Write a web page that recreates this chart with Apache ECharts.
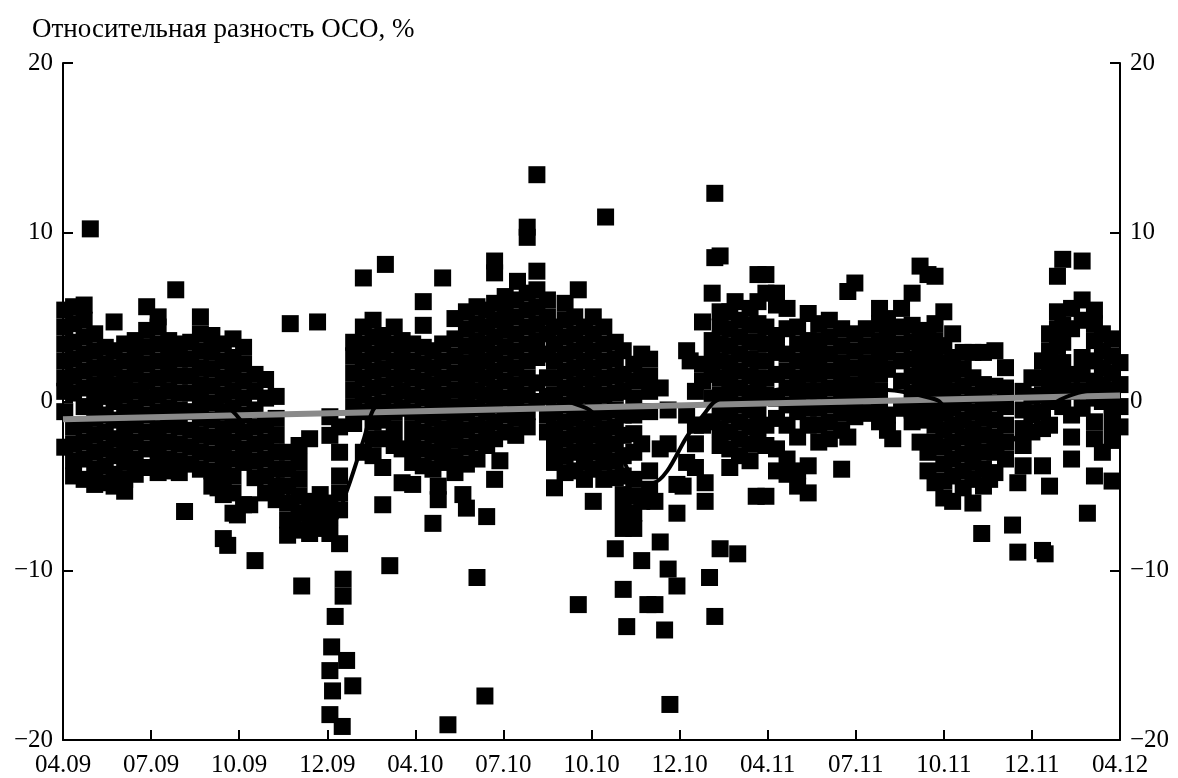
<!DOCTYPE html>
<html>
<head>
<meta charset="utf-8">
<script src="https://cdn.jsdelivr.net/npm/echarts@6/dist/echarts.min.js"></script>
<style>
html,body{margin:0;padding:0;background:#fff;}
#chart{width:1178px;height:778px;}
</style>
</head>
<body>
<div id="chart"></div>
<script>
// x axis: tick index 0..12 labelled with month.year
const xLabels = ['04.09','07.09','10.09','12.09','04.10','07.10','10.10','12.10','04.11','07.11','10.11','12.11','04.12'];
const yTicks = [-20, -10, 0, 10, 20];

// Scatter points: [x position, [y values at that x]]
const seg2009a = [
  [0.02,[5.4,4.4,3.4,2.4,1.4,0.6,-0.6,-2.7]],
  [0.12,[5.6,4.6,3.5,2.5,1.5,0.5,-1.5,-2.5,-3.5,-4.4]],
  [0.24,[5.7,4.8,3.8,2.8,1.8,0.8,-0.3,-1.4,-2.4,-3.4,-4.6]],
  [0.31,[10.2]],
  [0.36,[4.0,3.0,2.0,1.0,0.0,-1.0,-2.0,-3.0,-4.0,-4.9]],
  [0.48,[3.2,2.2,1.3,0.3,-0.8,-1.8,-2.8,-3.8,-4.8]],
  [0.58,[4.7,3.0,2.0,1.0,0.0,-1.1,-2.2,-3.2,-4.3,-5.0]],
  [0.70,[3.4,2.4,1.4,0.4,-0.6,-1.6,-2.6,-3.6,-4.6,-5.3]],
  [0.82,[3.6,2.6,1.6,0.6,-0.4,-1.4,-2.4,-3.4,-4.3]],
  [0.95,[5.6,4.2,3.2,2.2,1.2,0.2,-0.8,-1.8,-2.8,-3.9]],
  [1.08,[5.0,4.4,3.4,2.4,1.4,0.4,-0.6,-1.6,-2.6,-3.6,-4.2]],
  [1.20,[3.6,2.6,1.6,0.6,-0.4,-1.4,-2.4,-3.4,-4.1]],
  [1.28,[6.6]],
  [1.32,[3.4,2.5,1.5,0.5,-0.5,-1.5,-2.5,-3.5,-4.2]],
  [1.38,[-6.5]],
  [1.45,[3.5,2.5,1.5,0.5,-0.6,-1.7,-2.7,-3.7]],
  [1.56,[5.0,4.0,3.0,2.0,1.0,0.0,-1.0,-2.0,-3.0,-4.0]],
  [1.69,[3.9,2.9,1.9,0.9,-0.1,-1.1,-2.1,-3.1,-4.1,-5.0]],
  [1.76,[-5.1]],
  [1.82,[3.4,2.4,1.4,0.4,-0.6,-1.6,-2.6,-3.6,-4.5,-5.5,-8.1]],
  [1.87,[-8.5]],
  [1.93,[3.7,2.6,1.6,0.6,-0.4,-1.4,-2.4,-3.4,-4.4,-5.4,-6.6]],
  [1.98,[-6.7]]
];
const seg2009b = [
  [2.05,[3.2,2.2,1.2,0.2,-0.8,-1.8,-2.8,-3.6,-6.1]],
  [2.12,[-6.1]],
  [2.18,[1.6,0.6,-0.5,-1.5,-2.5,-3.5,-4.5,-9.4]],
  [2.30,[1.3,0.2,-1.4,-2.4,-3.4,-4.4,-5.4]],
  [2.42,[0.3,-1.0,-2.0,-3.0,-4.0,-5.0,-5.8]],
  [2.55,[-3.0,-4.0,-5.0,-6.0,-7.0,-7.9]],
  [2.58,[4.6]],
  [2.61,[-7.5]],
  [2.68,[-2.6,-3.6,-4.6,-5.6,-6.6,-7.6]],
  [2.71,[-10.9]],
  [2.80,[-2.2,-5.9,-6.8,-7.8]],
  [2.89,[4.7]],
  [2.92,[-5.5,-6.5,-7.5]],
  [3.03,[-0.9,-2.0,-6.0,-6.8,-7.8,-15.9,-18.5]],
  [3.05,[-14.5]],
  [3.06,[-17.1]],
  [3.09,[-12.7]],
  [3.14,[-1.5,-3.0,-4.4,-5.4,-6.4,-8.4]],
  [3.17,[-19.2]],
  [3.18,[-10.5,-11.5]],
  [3.22,[-15.3]],
  [3.29,[-16.8]],
  [3.30,[3.5,2.7,1.7,0.7,-0.3,-1.3]],
  [3.41,[7.3,4.4,3.4,2.4,1.4,0.4,-0.6,-3.0]],
  [3.52,[4.8,3.8,2.8,1.8,0.8,-0.2,-1.2,-2.2,-3.2]],
  [3.63,[3.9,2.9,1.9,0.9,-0.1,-1.1,-2.2,-3.9,-6.1]],
  [3.66,[8.1]],
  [3.71,[-9.7]],
  [3.76,[4.4,3.4,2.4,1.4,0.4,-0.6,-1.6,-2.6]],
  [3.85,[3.6,2.6,1.6,0.6,-0.4,-2.8,-4.8]]
];
const seg2010a = [
  [3.97,[3.4,2.4,1.4,0.4,-0.6,-1.6,-2.6,-3.6,-4.9]],
  [4.09,[5.9,4.5,3.2,2.2,1.2,0.2,-0.8,-1.8,-2.8,-3.8]],
  [4.20,[3.0,2.0,1.0,0.0,-1.0,-2.0,-3.0,-4.0,-7.2]],
  [4.26,[-5.0,-5.8]],
  [4.31,[7.3,3.4,2.4,1.4,0.4,-0.6,-1.6,-2.6,-3.6]],
  [4.37,[-19.1]],
  [4.45,[4.9,3.7,2.7,1.7,0.7,-0.3,-1.3,-2.3,-3.3,-4.2]],
  [4.54,[-5.5]],
  [4.58,[5.3,4.3,3.3,2.3,1.3,0.3,-0.7,-1.7,-2.7,-3.7,-6.3]],
  [4.70,[5.6,4.6,3.6,2.6,1.6,0.6,-0.4,-1.4,-2.4,-3.4,-10.4]],
  [4.79,[-17.4]],
  [4.81,[5.4,4.4,3.4,2.4,1.4,0.4,-0.6,-1.6,-2.6,-6.8]],
  [4.90,[8.3,7.6,5.8,4.8,3.8,2.8,1.8,0.8,-0.2,-1.2,-2.2,-4.6]],
  [4.96,[-3.5]],
  [5.02,[6.2,5.2,4.2,3.2,2.2,1.2,0.2,-0.8,-1.8]],
  [5.14,[6.0,5.0,4.0,3.0,2.0,1.0,0.0,-1.0,-2.0]],
  [5.16,[7.1]],
  [5.27,[10.3,9.7,6.4,5.4,4.4,3.4,2.4,1.4,0.4,-0.6,-1.5]],
  [5.38,[13.4,7.7,6.6,5.6,4.6,3.6,2.6,1.1,0.0]],
  [5.50,[6.0,5.0,4.0,2.8,1.4,0.3,-0.8,-1.8]],
  [5.58,[4.4,3.4,2.4,1.4,0.4,-0.6,-1.6,-2.6,-3.6,-5.1]],
  [5.70,[5.8,4.8,3.8,2.8,1.8,0.8,-0.2,-1.2,-2.2,-3.2,-4.2]],
  [5.81,[5.0,4.0,3.0,2.0,1.0,0.0,-1.0,-2.0,-3.0,-4.1]],
  [5.85,[6.6,-12.0]],
  [5.92,[4.4,3.4,2.4,1.4,0.4,-0.6,-1.6,-2.6,-3.6,-4.6]]
];
const seg2010b = [
  [6.02,[5.0,4.0,3.0,2.0,1.0,0.0,-1.0,-2.0,-3.0,-4.0,-5.9]],
  [6.14,[4.4,3.4,2.4,1.4,0.4,-0.6,-1.6,-2.6,-3.6,-4.6]],
  [6.16,[10.9]],
  [6.27,[3.5,2.5,1.5,0.5,-0.5,-1.5,-2.5,-3.5,-4.5,-8.7]],
  [6.36,[3.0,1.6,0.6,-0.8,-2.0,-3.2,-4.4,-5.5,-6.5,-7.5,-11.1]],
  [6.40,[-13.3]],
  [6.48,[2.2,1.2,0.2,-0.8,-1.9,-3.0,-4.6,-5.6,-6.6,-7.5]],
  [6.57,[2.8,1.3,-2.5,-5.9,-9.4]],
  [6.64,[-12.0]],
  [6.66,[2.5,1.5,0.6,-0.6,-4.1,-5.3]],
  [6.72,[-5.9,-12.0]],
  [6.78,[0.8,-2.8,-8.3]],
  [6.83,[-13.5]],
  [6.87,[-0.5,-2.5,-9.9]],
  [6.89,[-17.9]],
  [6.97,[-6.6,-4.9,-10.9]],
  [7.04,[-5.0]],
  [7.08,[3.0,-0.8,-3.6]],
  [7.12,[2.4]],
  [7.18,[0.6,-1.4,-2.5,-3.9]],
  [7.26,[4.7,2.2,1.2,-1.4]],
  [7.29,[-4.8,-5.9]],
  [7.34,[-10.4]],
  [7.37,[6.4,3.6,2.6,1.6,0.2,-1.2]],
  [7.40,[12.3,8.5,-12.7]],
  [7.46,[8.6,5.3,4.4,3.4,2.4,1.4,0.4,-0.6,-1.6,-2.6,-8.7]],
  [7.57,[5.3,4.3,3.3,2.3,1.3,0.3,-0.8,-1.8,-2.8,-3.9]],
  [7.63,[5.9]],
  [7.66,[-9.0]],
  [7.68,[4.8,3.8,2.8,1.8,0.8,-0.2,-1.2,-2.2,-3.2]],
  [7.80,[5.5,4.5,3.5,2.5,1.5,0.5,-0.5,-1.5,-2.5,-3.5]],
  [7.87,[-5.6]],
  [7.89,[7.5,5.9,4.6,3.5,2.4,1.3,0.3,-0.7,-1.8]]
];
const seg2011a = [
  [7.98,[7.5,6.4,4.4,3.4,2.4,1.4,0.4,-1.4,-2.6,-5.6]],
  [8.10,[6.4,5.7,3.9,2.9,1.6,0.2,-1.0,-2.8,-4.1]],
  [8.22,[5.5,4.3,2.8,1.8,0.8,-0.2,-1.4,-3.4,-4.3]],
  [8.34,[4.4,3.4,2.4,1.4,0.4,-0.6,-2.1,-4.1,-5.0]],
  [8.46,[5.2,3.6,2.6,1.6,0.6,-0.4,-1.4,-3.8,-5.4]],
  [8.58,[4.6,3.6,2.6,1.6,0.6,-0.4,-1.4,-2.4]],
  [8.70,[4.8,3.8,2.8,1.8,0.8,-0.2,-1.2,-2.2]],
  [8.84,[4.3,3.3,2.3,1.3,0.3,-0.7,-1.7,-4.0]],
  [8.91,[6.5,-2.1]],
  [8.99,[7.0,4.0,3.0,2.0,1.0,0.0,-0.9]],
  [9.12,[4.3,3.3,2.3,1.3,0.3,-0.7]],
  [9.27,[5.5,4.6,3.6,2.6,1.6,0.6,-0.4,-1.2]],
  [9.36,[4.9,3.9,2.9,1.9,-0.8,-1.7]],
  [9.42,[-2.2]],
  [9.52,[5.5,4.4,3.4,2.4,1.2,-0.4]],
  [9.64,[6.4,4.5,3.5,2.5,1.5,0.5,-0.5,-1.2]],
  [9.73,[8.0,3.9,2.9,1.9,0.9,-0.1,-1.1,-2.4]],
  [9.82,[7.5,4.2,3.2,2.2,1.2,0.2,-0.8,-3.0,-4.1]],
  [9.90,[7.4,4.6,3.6,2.6,1.6,0.6,-0.4,-1.4,-2.4,-4.8]]
];
const seg2011b = [
  [10.00,[5.3,3.3,2.3,1.3,0.3,-0.7,-1.7,-2.7,-3.7,-4.7,-5.7]],
  [10.10,[4.0,2.6,1.6,0.6,-0.4,-1.4,-2.4,-3.4,-4.4,-5.9]],
  [10.22,[2.9,1.9,0.9,-0.1,-1.1,-2.1,-3.1,-4.1,-5.1]],
  [10.33,[2.9,1.4,0.4,-0.6,-1.6,-2.6,-3.6,-4.6,-6.0]],
  [10.43,[-7.8]],
  [10.45,[2.9,1.0,0.0,-1.0,-2.0,-3.0,-4.0,-5.0]],
  [10.52,[-4.6]],
  [10.58,[3.0,0.9,-0.1,-1.1,-2.1,-3.0,-4.2]],
  [10.70,[2.0,0.8,-0.3,-1.4,-2.4,-3.4]],
  [10.78,[-7.3]],
  [10.84,[-8.9,-4.8]],
  [10.90,[0.6,-0.5,-1.6,-2.6,-3.8]],
  [11.00,[1.4,0.3,-0.7,-1.8]],
  [11.12,[2.4,1.4,0.4,-0.6,-1.6,-3.8,-8.8]],
  [11.15,[-9.0]],
  [11.20,[4.0,3.0,2.0,1.0,0.0,-1.4,-5.0]],
  [11.29,[7.4,5.3,4.3,3.3,2.3,1.3,0.3]],
  [11.35,[8.4,4.5,3.5,2.3,1.0,-0.3]],
  [11.45,[5.5,4.3,1.6,0.6,-0.8,-2.1,-3.4]],
  [11.57,[8.3,6.0,4.8,2.6,1.6,0.6,-0.4]],
  [11.63,[-6.6]],
  [11.71,[5.4,4.6,3.6,2.4,1.2,0.2,-1.2,-2.2,-4.4]],
  [11.80,[4.0,3.0,2.0,1.0,0.0,-3.0]],
  [11.91,[3.7,2.7,1.7,0.7,-0.3,-1.3,-2.3,-4.7]],
  [12.00,[2.3,1.0,-0.3,-1.5]]
];

// Running mean (black curve)
const meanLine = [
  [0,0.8],[0.5,1.0],[1.0,0.6],[1.5,0.4],[1.85,-0.3],[2.0,-1.0],[2.2,-2.6],[2.43,-4.4],
  [2.6,-5.8],[2.77,-6.6],[2.95,-7.2],[3.05,-7.2],[3.22,-5.3],[3.41,-2.3],[3.52,-0.5],
  [3.65,0.1],[4.0,0.3],[4.5,-0.2],[5.0,0.4],[5.5,0.3],[5.9,-0.3],[6.02,-0.7],[6.32,-3.0],
  [6.45,-4.4],[6.55,-4.8],[6.7,-4.8],[6.86,-4.1],[7.08,-2.1],[7.27,-0.8],[7.4,0.0],
  [7.6,0.4],[8.0,0.6],[8.5,1.0],[9.0,0.8],[9.5,0.6],[9.85,0.2],[9.95,0.0],[10.07,-0.8],
  [10.22,-1.7],[10.41,-2.6],[10.6,-3.0],[10.78,-2.3],[11.09,-0.8],[11.32,0.1],[11.6,0.6],[12.0,0.8]
];
// Linear trend (grey line)
const trendLine = [[0,-1.05],[12,0.35]];

const points = [];
[seg2009a, seg2009b, seg2010a, seg2010b, seg2011a, seg2011b].forEach(seg => {
  seg.forEach(([x, ys]) => ys.forEach(y => points.push([x, y])));
});

const FONT = '"Liberation Serif", "Times New Roman", serif';
const fmtY = v => (v < 0 ? '\u2212' + Math.abs(v) : String(v));

const chart = echarts.init(document.getElementById('chart'), null, {renderer: 'canvas'});
chart.setOption({
  animation: false,
  backgroundColor: '#fff',
  title: {
    text: 'Относительная разность ОСО, %',
    left: 27, top: 11,
    textStyle: {fontFamily: FONT, fontSize: 27, fontWeight: 'normal', color: '#000'}
  },
  grid: {left: 63, right: 58, top: 63, bottom: 37, containLabel: false},
  xAxis: {
    type: 'value', min: 0, max: 12, interval: 1,
    axisLine: {show: true, onZero: false, lineStyle: {color: '#000', width: 2}},
    axisTick: {show: true, inside: true, length: 10, lineStyle: {color: '#000', width: 2}},
    axisLabel: {
      fontFamily: FONT, fontSize: 25, color: '#000', margin: 13,
      showMinLabel: true, showMaxLabel: true,
      formatter: v => xLabels[Math.round(v)] || ''
    },
    splitLine: {show: false}
  },
  yAxis: [
    {
      type: 'value', min: yTicks[0], max: yTicks[yTicks.length-1], interval: 10,
      position: 'left',
      axisLine: {show: true, onZero: false, lineStyle: {color: '#000', width: 2}},
      axisTick: {show: true, inside: true, length: 10, lineStyle: {color: '#000', width: 2}},
      axisLabel: {fontFamily: FONT, fontSize: 25, color: '#000', margin: 10, formatter: fmtY},
      splitLine: {show: false}
    },
    {
      type: 'value', min: yTicks[0], max: yTicks[yTicks.length-1], interval: 10,
      position: 'right',
      axisLine: {show: true, onZero: false, lineStyle: {color: '#000', width: 2}},
      axisTick: {show: true, inside: true, length: 10, lineStyle: {color: '#000', width: 2}},
      axisLabel: {fontFamily: FONT, fontSize: 25, color: '#000', margin: 10, formatter: fmtY},
      splitLine: {show: false}
    }
  ],
  series: [
    {
      type: 'scatter', data: points, symbol: 'rect', symbolSize: 17,
      itemStyle: {color: '#000', opacity: 1}, clip: false, z: 2, silent: true
    },
    {
      type: 'line', data: trendLine, showSymbol: false, symbol: 'none',
      lineStyle: {color: '#8a8a8a', width: 6}, z: 3, silent: true
    },
    {
      type: 'line', data: meanLine, showSymbol: false, symbol: 'none', smooth: 0.3,
      lineStyle: {color: '#000', width: 4}, z: 4, silent: true
    }
  ]
});
</script>
</body>
</html>
